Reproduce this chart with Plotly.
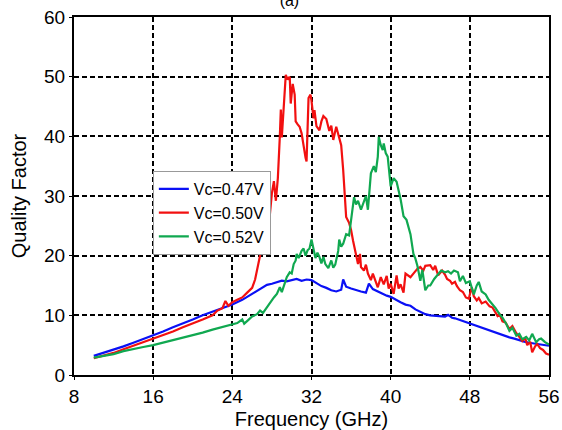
import plotly.graph_objects as go

# Vc = 0.47 V
f_047 = [10, 11, 12, 13, 14, 15, 16, 17, 18, 19, 20, 21, 22, 23, 24, 25, 26, 26.5, 27, 27.5,
         28, 28.5, 29, 29.5, 30, 30.5, 31, 31.5, 32, 32.5, 33, 33.5, 34, 34.5, 35, 35.2, 35.5,
         36, 36.5, 37, 37.5, 37.8, 38.2, 38.7, 39.2, 39.6, 40, 40.5, 41, 41.5, 42, 42.5, 43,
         43.5, 44, 44.5, 45, 45.5, 45.8, 46.2, 46.5, 47, 47.5, 48, 48.5, 49, 49.5, 50, 50.5,
         51, 51.5, 52, 52.5, 53, 53.5, 54, 54.5, 55, 55.5, 56]
q_047 = [3.2, 3.7, 4.2, 4.8, 5.4, 6.0, 6.6, 7.3, 8.0, 8.6, 9.3, 10.0, 10.6, 11.2, 11.8, 12.6,
         13.6, 14.2, 14.6, 15.1, 15.3, 15.6, 15.8, 15.7, 15.9, 16.1, 15.8, 16.0, 15.9, 15.4,
         14.9, 14.6, 14.2, 14.0, 14.3, 16.0, 14.8, 14.5, 14.2, 14.0, 13.8, 15.3, 14.4, 14.0,
         13.7, 13.3, 13.1, 12.6, 12.2, 11.8, 11.6, 11.0, 10.6, 10.2, 10.0, 9.9, 9.8, 9.8, 10.1,
         9.6, 9.5, 9.2, 8.9, 8.7, 8.3, 8.0, 7.8, 7.5, 7.2, 6.9, 6.6, 6.3, 6.1, 5.8, 5.6, 5.4,
         5.3, 5.2, 5.0, 4.9]

# Vc = 0.50 V
f_050 = [10, 11, 12, 13, 14, 15, 16, 17, 18, 19, 20, 21, 22, 22.5, 23, 23.3, 23.6, 24, 24.5,
         25, 25.5, 26, 26.3, 26.6, 26.9, 27.2, 27.5, 27.8, 28.0, 28.2, 28.4, 28.6, 28.8, 28.9,
         29.0, 29.2, 29.4, 29.6, 29.8, 29.9, 30.1, 30.3, 30.4, 30.6, 30.8, 31.0, 31.2, 31.4,
         31.5, 31.6, 31.7, 31.9, 32.0, 32.2, 32.3, 32.5, 32.8, 33.0, 33.2, 33.5, 33.8, 34.0,
         34.2, 34.5, 34.8, 35.0, 35.2, 35.3, 35.5, 35.8, 36.0, 36.2, 36.4, 36.5, 36.7, 36.9,
         37.0, 37.3, 37.5, 37.7, 38.0, 38.2, 38.5, 38.7, 39.0, 39.3, 39.6, 39.8, 40.0, 40.3,
         40.6, 40.8, 41.0, 41.3, 41.5, 41.8, 42.0, 42.4, 42.7, 43.0, 43.3, 43.5, 44.0, 44.3,
         44.5, 44.8, 45.2, 45.5, 45.7, 46.0, 46.2, 46.5, 46.7, 47.0, 47.3, 47.6, 47.9, 48.0,
         48.2, 48.4, 48.7, 48.9, 49.2, 49.6, 50.0, 50.3, 50.6, 50.8, 51.0, 51.3, 51.6, 52.0,
         52.3, 52.7, 53.0, 53.3, 53.6, 53.8, 54.1, 54.3, 54.6, 54.8, 55.1, 55.4, 55.7, 56.0]
q_050 = [2.8, 3.2, 3.7, 4.3, 4.9, 5.4, 6.0, 6.6, 7.3, 8.0, 8.6, 9.3, 10.0, 10.8, 11.2, 12.4,
         11.6, 12.2, 12.6, 13.0, 13.8, 14.6, 16.0, 18.5, 20.8, 22.5, 24.5, 27.0, 30.5, 32.5,
         29.2, 33.0, 40.0, 44.5, 39.8, 46.0, 50.3, 49.5, 50.0, 45.5, 48.8, 47.0, 42.5, 42.0,
         41.6, 40.5, 38.0, 36.4, 35.8, 44.0, 46.4, 47.0, 46.0, 43.0, 44.4, 41.7, 41.0, 42.5,
         43.4, 42.9, 40.9, 41.8, 39.4, 41.6, 39.4, 38.5, 34.4, 31.5, 26.5, 25.5, 24.3, 22.5,
         20.8, 19.7, 18.6, 20.3, 18.1, 17.5, 18.5, 17.0, 15.9, 17.0, 15.5, 14.7, 16.4, 15.2,
         16.6, 14.5, 15.3, 13.6, 16.7, 14.5, 15.2, 13.8, 17.0, 16.7, 16.4, 17.2, 17.8, 18.1,
         17.5, 18.3, 18.4, 17.6, 18.3, 16.7, 17.5, 16.8, 16.1, 15.8, 15.3, 15.6, 14.9, 14.2,
         13.9, 13.0, 12.8, 13.5, 14.7, 13.2, 12.5, 12.9, 12.0, 12.3, 11.5, 11.3, 10.4, 9.9,
         10.2, 9.0, 8.8, 7.7, 8.2, 7.0, 6.4, 5.7, 6.2, 5.0, 5.6, 3.8, 4.8, 5.2, 4.5, 4.2, 3.6,
         3.4]

# Vc = 0.52 V
f_052 = [10, 11, 12, 13, 14, 15, 16, 17, 18, 19, 20, 21, 22, 23, 24, 24.5, 25.0, 25.2, 25.6,
         26.0, 26.5, 26.8, 27.1, 27.5, 27.8, 28.2, 28.5, 28.8, 29.0, 29.3, 29.5, 29.8, 30.0,
         30.2, 30.4, 30.5, 30.7, 30.8, 31.0, 31.2, 31.4, 31.6, 31.8, 32.0, 32.2, 32.4, 32.6,
         32.8, 33.0, 33.2, 33.4, 33.7, 34.0, 34.2, 34.4, 34.7, 34.8, 35.0, 35.2, 35.5, 35.8,
         36.0, 36.3, 36.5, 36.7, 37.0, 37.3, 37.5, 37.7, 38.0, 38.3, 38.5, 38.7, 38.8, 39.0,
         39.2, 39.3, 39.5, 39.7, 40.0, 40.3, 40.6, 41.0, 41.3, 41.6, 42.0, 42.3, 42.5, 42.7,
         43.0, 43.2, 43.5, 43.8, 44.0, 44.4, 44.8, 45.1, 45.5, 45.8, 46.1, 46.4, 46.8, 47.0,
         47.3, 47.6, 48.0, 48.3, 48.4, 48.7, 48.9, 49.2, 49.6, 49.9, 50.3, 50.6, 51.0, 51.3,
         51.7, 52.0, 52.3, 52.7, 53.0, 53.3, 53.7, 54.0, 54.3, 54.7, 55.0, 55.2, 55.6, 56.0]
q_052 = [2.9, 3.2, 3.5, 4.0, 4.4, 4.7, 5.0, 5.4, 5.8, 6.2, 6.7, 7.1, 7.6, 8.0, 8.4, 8.7, 9.3,
         8.6, 9.2, 9.8, 10.2, 10.8, 10.4, 11.4, 12.2, 13.0, 13.6, 14.7, 13.9, 15.2, 16.4, 17.2,
         17.0, 18.6, 19.2, 20.3, 19.6, 20.0, 20.8, 21.2, 20.0, 20.9, 21.2, 22.7, 21.0, 19.6,
         20.5, 19.8, 18.7, 19.8, 18.6, 17.9, 19.2, 18.0, 18.5, 20.8, 22.7, 21.5, 22.0, 23.6,
         23.4, 26.3, 29.8, 28.6, 29.2, 27.7, 29.0, 30.0, 27.7, 33.8, 35.0, 34.0, 36.6, 39.9,
         38.5, 37.7, 38.8, 37.2, 36.6, 31.6, 33.0, 32.4, 29.5, 26.6, 26.0, 23.6, 20.3, 19.5,
         18.3, 15.8, 17.6, 14.2, 15.0, 15.0, 16.1, 17.0, 17.5, 17.2, 17.4, 17.0, 17.5, 17.2,
         15.7, 16.6, 15.4, 15.7, 14.2, 13.5, 15.0, 15.6, 14.0, 13.5, 12.6, 11.8, 11.2, 10.2,
         9.6, 8.5, 7.4, 7.9, 6.6, 6.9, 6.0, 6.4, 5.8, 6.9, 5.5, 6.0, 6.1, 5.5, 5.1]

x_ticks = [8, 16, 24, 32, 40, 48, 56]
y_ticks = [0, 10, 20, 30, 40, 50, 60]

FONT = "Arial, Liberation Sans, sans-serif"

fig = go.Figure()
fig.add_trace(go.Scatter(x=f_047, y=q_047, mode="lines", name="Vc=0.47V",
                         line=dict(color="#0a10f5", width=2.2)))
fig.add_trace(go.Scatter(x=f_050, y=q_050, mode="lines", name="Vc=0.50V",
                         line=dict(color="#f21010", width=2.2)))
fig.add_trace(go.Scatter(x=f_052, y=q_052, mode="lines", name="Vc=0.52V",
                         line=dict(color="#10a850", width=2.2)))

axis_common = dict(
    showline=True, linecolor="black", linewidth=2, mirror=True,
    showgrid=True, gridcolor="black", gridwidth=1.6, griddash="5px,3px",
    zeroline=False, ticks="outside", ticklen=3, tickcolor="black",
    tickfont=dict(family=FONT, size=19, color="black"),
    automargin=False,
)

fig.update_xaxes(range=[8, 56], tickvals=x_ticks,
                 title=dict(text="Frequency (GHz)", standoff=6,
                            font=dict(family=FONT, size=20, color="black")),
                 **axis_common)
fig.update_yaxes(range=[0, 60], tickvals=y_ticks,
                 title=dict(text="Quality Factor", standoff=12,
                            font=dict(family=FONT, size=20, color="black")),
                 **axis_common)

fig.update_layout(
    width=562, height=430,
    margin=dict(l=74, r=13, t=17, b=55),
    paper_bgcolor="white", plot_bgcolor="white",
    title=dict(text="(a)", x=0.515, xanchor="center", yref="container", y=1.0,
               yanchor="middle", font=dict(family=FONT, size=16, color="black")),
    legend=dict(x=0.166, y=0.57, xanchor="left", yanchor="top",
                bgcolor="white", bordercolor="#999999", borderwidth=1,
                font=dict(family=FONT, size=16, color="black"),
                itemwidth=30, tracegroupgap=0),
    showlegend=True,
)

fig.write_html("out.html")
